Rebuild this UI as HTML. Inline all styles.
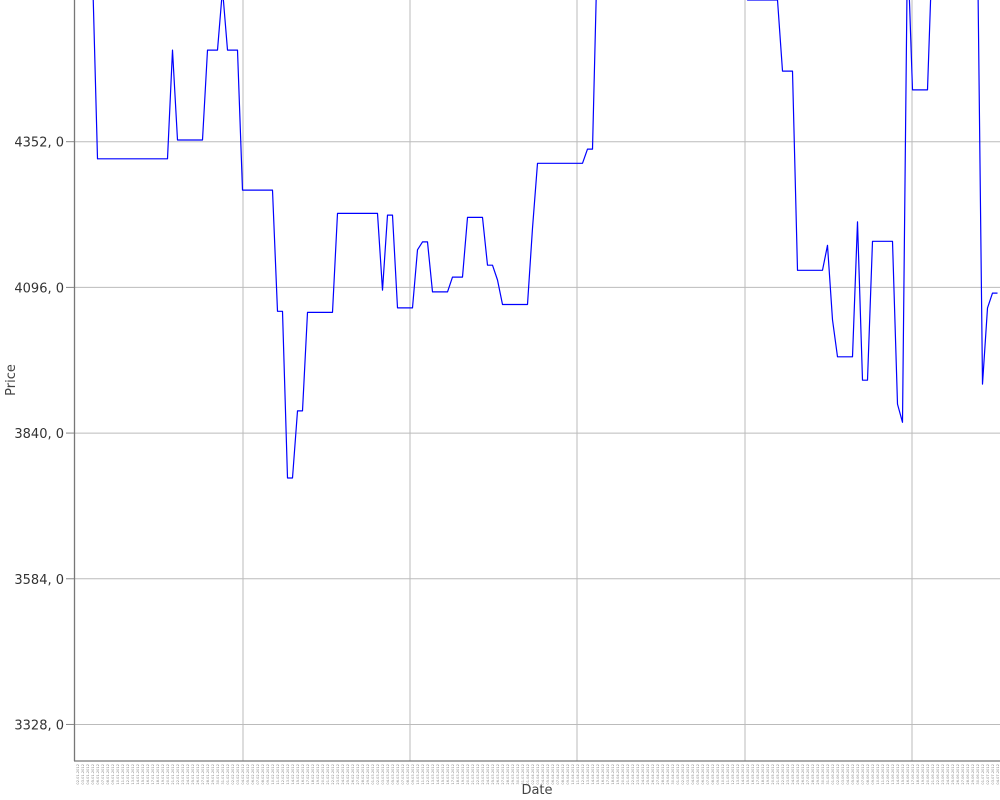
<!DOCTYPE html>
<html><head><meta charset="utf-8"><style>
html,body{margin:0;padding:0;background:#fff;}
svg{display:block;font-family:"DejaVu Sans","Liberation Sans",sans-serif;}
</style></head><body>
<svg id="chart" width="1000" height="800" viewBox="0 0 1000 800" xmlns="http://www.w3.org/2000/svg">
<defs><clipPath id="plotclip"><rect x="75" y="0" width="925" height="761"/></clipPath></defs>
<g id="grid"></g>
<g id="yaxis"></g>
<g id="xaxis"></g>
<g id="series" clip-path="url(#plotclip)"></g>
<text x="15" y="380" font-size="13" fill="#444" text-anchor="middle" transform="rotate(-90 15 380)">Price</text>
<text x="537" y="794" font-size="13" fill="#444" text-anchor="middle">Date</text>
</svg>
<script>
const dayIdx = [3,4,18,19,20,25,26,28,29,30,32,33,39,40,41,42,43,44,45,46,51,52,60,61,62,63,64,67,68,69,70,71,74,75,77,78,81,82,83,84,85,90,91,92,101,102,103,104,133,134,140,141,143,144,149,150,151,152,155,156,157,158,159,163,164,165,166,167,170,171,180,181,182,183,184];
const prices = [4650,4322,4322,4513,4355,4355,4513,4513,4620,4513,4513,4267,4267,4054,4054,3761,3761,3879,3879,4052,4052,4226,4226,4091,4223,4223,4060,4060,4162,4176,4176,4088,4088,4114,4114,4219,4219,4135,4135,4109,4066,4066,4200,4314,4314,4339,4339,4700,4700,4601,4601,4476,4476,4126,4126,4170,4039,3974,3974,4211,3933,3933,4177,4177,3891,3859,4700,4443,4443,4700,4700,3926,4060,4086,4086];
const yTicks = [3328,3584,3840,4096,4352];
const yTickLabels = ["3328, 0","3584, 0","3840, 0","4096, 0","4352, 0"];
const dayCount = 185;
const xGridDays = [33.1,66.5,99.9,133.5,166.9];

const NS = "http://www.w3.org/2000/svg";
function xScale(i){ return 77.5 + i*5; }
function yScale(v){ return 141.7 + (4352 - v)*0.5691; }
function mk(tag, attrs, parent){ const e=document.createElementNS(NS,tag); for(const k in attrs) e.setAttribute(k,attrs[k]); parent.appendChild(e); return e; }

const grid=document.getElementById('grid'), yaxis=document.getElementById('yaxis'), xaxis=document.getElementById('xaxis'), series=document.getElementById('series');
yTicks.forEach((v,i)=>{
  const y=yScale(v);
  const g=mk('line',{x1:75,x2:1000,y1:y,y2:y,stroke:'#bbb','stroke-width':1},grid);
  
  
  const t=mk('line',{x1:66,x2:75,y1:y,y2:y,stroke:'#888','stroke-width':1},yaxis);
  
  
  const l=mk('text',{x:64,y:y+5,'font-size':13,fill:'#333','text-anchor':'end'},yaxis);
  l.textContent=yTickLabels[i];
  
  
});
xGridDays.forEach(d=>{
  const x=xScale(d);
  const g=mk('line',{x1:x,x2:x,y1:0,y2:761,stroke:'#bbb','stroke-width':1},grid);
  
  
});
const ax=mk('line',{x1:74.5,x2:74.5,y1:0,y2:761,stroke:'#777','stroke-width':1.3},yaxis);


const bx=mk('line',{x1:74,x2:1000,y1:761,y2:761,stroke:'#777','stroke-width':1.3},xaxis);


const start=new Date(2012,0,2);
for(let i=0;i<dayCount;i++){
  const d=new Date(start.getTime()+i*86400000);
  const s=String(d.getDate()).padStart(2,'0')+'.'+String(d.getMonth()+1).padStart(2,'0')+'.'+d.getFullYear();
  const x=xScale(i)+1.5;
  const t=mk('text',{x:x,y:764,'font-size':3.6,fill:'#888','text-anchor':'end',transform:`rotate(-90 ${x} 764)`},xaxis);
  t.textContent=s;
  
  
}
let dstr='';
dayIdx.forEach((d,i)=>{ dstr+=(i?'L':'M')+xScale(d).toFixed(1)+','+yScale(prices[i]).toFixed(1); });
const p=mk('path',{d:dstr,fill:'none',stroke:'#0000ff','stroke-width':1.2,'stroke-linejoin':'round'},series);


</script>
</body></html>
